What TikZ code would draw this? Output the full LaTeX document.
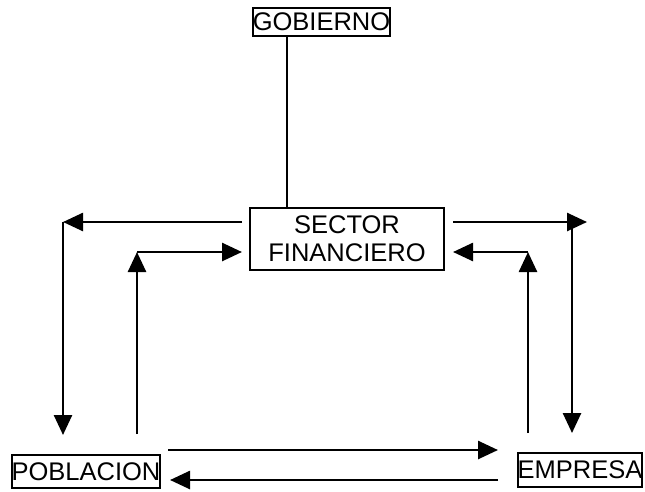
\documentclass[tikz,border=0pt]{standalone}
\usepackage{fontspec}
\setmainfont{Liberation Sans}
\usetikzlibrary{arrows.meta}
\begin{document}
\begin{tikzpicture}[x=1pt,y=-1pt,
  box/.style={draw,line width=2pt,inner sep=0pt,align=center,font=\fontsize{25.5}{28}\selectfont},
  arr/.style={line width=2.6pt,-{Triangle[length=20pt,width=18pt]}},
  plain/.style={line width=1.8pt}]
\useasboundingbox (0,0) rectangle (645,491);
\node[box,minimum width=134pt,minimum height=28pt] (gob) at (321.5,22) {GOBIERNO};
\node[box,minimum width=194pt,minimum height=62pt] (sec) at (347,239) {SECTOR\\FINANCIERO};
\node[box,minimum width=148pt,minimum height=33pt] (pob) at (86,471.5) {POBLACION};
\node[box,minimum width=120pt,minimum height=34pt] (emp) at (580,470) {EMPRESA};
% gobierno - sector
\draw[plain] (287,0 |- gob.south) -- (287,0 |- sec.north);
% left side
\coordinate (L1) at (242,222); \coordinate (L2) at (63,222); \coordinate (L3) at (63,435);
\draw[arr] (L1) -- (L2);
\draw[arr] (L2) -- (L3);
\coordinate (M1) at (137,434); \coordinate (M2) at (137,252); \coordinate (M3) at (242,252);
\draw[arr] (M1) -- (M2);
\draw[arr] (M2) -- (M3);
% right side
\coordinate (R1) at (453,222); \coordinate (R2) at (587,222);
\coordinate (R3) at (572,222); \coordinate (R4) at (572,433);
\draw[arr] (R1) -- (R2);
\draw[arr] (R3) -- (R4);
\coordinate (S1) at (528,433); \coordinate (S2) at (528,252); \coordinate (S3) at (453,252);
\draw[arr] (S1) -- (S2);
\draw[arr] (S2) -- (S3);
% bottom
\coordinate (B1) at (168,450); \coordinate (B2) at (498,450);
\coordinate (B3) at (498,480); \coordinate (B4) at (170,480);
\draw[arr] (B1) -- (B2);
\draw[arr] (B3) -- (B4);
\end{tikzpicture}
\end{document}
